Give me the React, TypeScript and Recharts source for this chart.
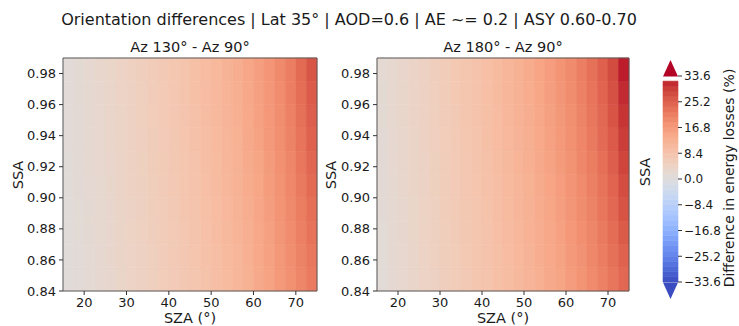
import React from 'react'
import { ScatterChart, ComposedChart, XAxis, YAxis, ReferenceArea } from 'recharts'

// grid cell edges (SZA in degrees, SSA)
const szaEdges = [15, 17.5, 20, 22.5, 25, 27.5, 30, 32.5, 35, 37.5, 40, 42.5, 45, 47.5, 50, 52.5, 55, 57.5, 60, 62.5, 65, 67.5, 70, 72.5, 75]
const ssaEdges = [0.84, 0.855, 0.87, 0.885, 0.9, 0.915, 0.93, 0.945, 0.96, 0.975, 0.99]

const szaTicks = [20, 30, 40, 50, 60, 70]
const ssaTicks = [0.84, 0.86, 0.88, 0.9, 0.92, 0.94, 0.96, 0.98]
const cbarTicks = [-33.6, -25.2, -16.8, -8.4, 0, 8.4, 16.8, 25.2, 33.6]

// difference in energy losses (%), rows from SSA 0.84 (bottom) to 0.99 (top)
const az130Rows = [
  [0.8, 1.3, 1.8, 2.3, 2.8, 3.5, 4.1, 4.7, 5.4, 6.1, 6.7, 7.4, 8.1, 8.9, 9.7, 10.6, 11.6, 12.7, 14.0, 15.4, 16.9, 18.4, 20.0, 21.6],
  [0.8, 1.3, 1.8, 2.3, 2.9, 3.6, 4.2, 4.8, 5.5, 6.2, 6.8, 7.5, 8.2, 9.0, 9.9, 10.8, 11.8, 12.9, 14.2, 15.7, 17.2, 18.7, 20.4, 22.1],
  [0.9, 1.4, 1.9, 2.4, 3.0, 3.7, 4.3, 4.9, 5.6, 6.3, 6.9, 7.6, 8.4, 9.2, 10.0, 11.0, 12.0, 13.1, 14.5, 15.9, 17.5, 19.0, 20.9, 22.7],
  [0.9, 1.4, 1.9, 2.5, 3.0, 3.7, 4.4, 5.0, 5.7, 6.4, 7.0, 7.8, 8.5, 9.4, 10.2, 11.1, 12.2, 13.3, 14.7, 16.1, 17.8, 19.4, 21.3, 23.2],
  [1.0, 1.5, 2.0, 2.5, 3.1, 3.8, 4.5, 5.1, 5.8, 6.5, 7.1, 7.9, 8.7, 9.5, 10.4, 11.3, 12.4, 13.6, 14.9, 16.4, 18.0, 19.7, 21.7, 23.8],
  [1.0, 1.5, 2.1, 2.6, 3.2, 3.9, 4.5, 5.2, 5.9, 6.6, 7.3, 8.0, 8.8, 9.7, 10.5, 11.5, 12.6, 13.8, 15.1, 16.6, 18.3, 20.0, 22.1, 24.3],
  [1.1, 1.6, 2.1, 2.7, 3.3, 4.0, 4.6, 5.3, 6.0, 6.7, 7.4, 8.2, 9.0, 9.8, 10.7, 11.7, 12.7, 14.0, 15.3, 16.9, 18.6, 20.4, 22.5, 24.9],
  [1.1, 1.6, 2.2, 2.7, 3.3, 4.0, 4.7, 5.4, 6.1, 6.8, 7.5, 8.3, 9.1, 10.0, 10.9, 11.9, 12.9, 14.2, 15.6, 17.1, 18.8, 20.7, 23.0, 25.4],
  [1.2, 1.7, 2.2, 2.8, 3.4, 4.1, 4.8, 5.5, 6.2, 6.9, 7.6, 8.4, 9.3, 10.2, 11.1, 12.0, 13.1, 14.4, 15.8, 17.3, 19.1, 21.0, 23.4, 26.0],
  [1.2, 1.7, 2.3, 2.9, 3.5, 4.2, 4.9, 5.6, 6.3, 7.0, 7.7, 8.5, 9.4, 10.3, 11.2, 12.2, 13.3, 14.6, 16.0, 17.6, 19.4, 21.3, 23.8, 26.5],
]

const az180Rows = [
  [1.3, 2.0, 2.6, 3.3, 4.1, 4.8, 5.6, 6.3, 7.0, 7.8, 8.5, 9.3, 10.1, 11.0, 11.9, 12.9, 14.0, 15.1, 16.5, 17.8, 19.2, 20.7, 22.3, 24.1],
  [1.4, 2.1, 2.7, 3.4, 4.2, 4.9, 5.7, 6.4, 7.2, 7.9, 8.6, 9.4, 10.3, 11.2, 12.1, 13.2, 14.3, 15.4, 16.8, 18.1, 19.6, 21.2, 22.9, 25.0],
  [1.4, 2.1, 2.8, 3.5, 4.3, 5.0, 5.8, 6.5, 7.3, 8.0, 8.7, 9.6, 10.4, 11.4, 12.3, 13.4, 14.5, 15.7, 17.1, 18.5, 20.0, 21.7, 23.5, 25.9],
  [1.5, 2.2, 2.8, 3.5, 4.3, 5.1, 5.9, 6.6, 7.4, 8.1, 8.9, 9.7, 10.6, 11.6, 12.5, 13.6, 14.8, 16.0, 17.4, 18.9, 20.4, 22.2, 24.1, 26.8],
  [1.5, 2.2, 2.9, 3.6, 4.4, 5.2, 6.0, 6.7, 7.5, 8.2, 9.0, 9.9, 10.8, 11.8, 12.7, 13.8, 15.0, 16.3, 17.7, 19.2, 20.8, 22.7, 24.7, 27.7],
  [1.6, 2.3, 2.9, 3.6, 4.4, 5.2, 6.0, 6.8, 7.6, 8.4, 9.1, 10.0, 10.9, 12.0, 12.9, 14.1, 15.3, 16.6, 18.0, 19.6, 21.3, 23.2, 25.4, 28.6],
  [1.6, 2.3, 3.0, 3.7, 4.5, 5.3, 6.1, 6.9, 7.7, 8.5, 9.3, 10.2, 11.1, 12.1, 13.1, 14.3, 15.5, 16.9, 18.3, 19.9, 21.7, 23.7, 26.0, 29.5],
  [1.7, 2.4, 3.1, 3.8, 4.6, 5.4, 6.2, 7.0, 7.8, 8.6, 9.4, 10.3, 11.3, 12.3, 13.3, 14.5, 15.8, 17.2, 18.6, 20.3, 22.1, 24.2, 26.6, 30.4],
  [1.7, 2.4, 3.1, 3.8, 4.6, 5.5, 6.3, 7.1, 7.9, 8.7, 9.5, 10.5, 11.5, 12.5, 13.5, 14.8, 16.0, 17.5, 18.9, 20.7, 22.5, 24.7, 27.2, 31.3],
  [1.8, 2.5, 3.2, 3.9, 4.7, 5.6, 6.4, 7.2, 8.0, 8.8, 9.6, 10.6, 11.6, 12.7, 13.7, 15.0, 16.3, 17.8, 19.2, 21.0, 22.9, 25.2, 27.8, 32.2],
]

const VMIN = -33.6
const VMAX = 33.6

// matplotlib coolwarm, 33 samples
const CW = [
  [59, 76, 192], [68, 90, 204], [77, 104, 215], [87, 117, 225], [98, 130, 234], [108, 142, 241],
  [119, 154, 247], [130, 165, 251], [141, 176, 254], [152, 185, 255], [163, 194, 255], [174, 201, 253],
  [184, 208, 249], [194, 213, 244], [204, 217, 238], [213, 219, 230], [221, 221, 221], [229, 216, 209],
  [236, 211, 197], [241, 204, 185], [245, 196, 173], [247, 187, 160], [247, 177, 148], [247, 167, 135],
  [244, 154, 123], [241, 141, 111], [236, 127, 99], [229, 112, 88], [222, 96, 77], [213, 80, 66],
  [203, 62, 56], [192, 40, 47], [180, 4, 38],
]

function coolwarm(v: number) {
  let t = (v - VMIN) / (VMAX - VMIN)
  t = Math.max(0, Math.min(1, t))
  const p = t * (CW.length - 1)
  const i = Math.min(Math.floor(p), CW.length - 2)
  const f = p - i
  const c = CW[i].map((a, k) => Math.round(a + (CW[i + 1][k] - a) * f))
  return `rgb(${c[0]},${c[1]},${c[2]})`
}

const tickStyle = { fontSize: 13, fill: '#1a1a1a' }

function Panel({ rows, left, plotWidth }: { rows: number[][]; left: number; plotWidth: number }) {
  const width = 330
  const cells: React.ReactNode[] = []
  rows.forEach((row, r) => {
    row.forEach((v, c) => {
      const col = coolwarm(v)
      cells.push(
        <ReferenceArea
          key={`${r}-${c}`}
          x1={szaEdges[c]}
          x2={szaEdges[c + 1]}
          y1={ssaEdges[r]}
          y2={ssaEdges[r + 1]}
          fill={col}
          fillOpacity={1}
          stroke={col}
          strokeWidth={0.6}
        />
      )
    })
  })
  return (
    <div style={{ position: 'absolute', left, top: 0 }}>
      <ScatterChart width={width} height={326} margin={{ top: 58, right: width - 63 - plotWidth, bottom: 5, left: 23 }}>
        <XAxis
          type="number"
          dataKey="x"
          domain={[15, 75]}
          ticks={szaTicks}
          allowDataOverflow
          height={30}
          tick={tickStyle}
          tickSize={4}
          tickMargin={3}
          stroke="#333"
          axisLine={false}
        />
        <YAxis
          type="number"
          dataKey="y"
          domain={[0.84, 0.99]}
          ticks={ssaTicks}
          allowDataOverflow
          width={40}
          tick={tickStyle}
          tickSize={4}
          tickMargin={3}
          stroke="#333"
          axisLine={false}
          tickFormatter={(v: number) => v.toFixed(2)}
        />
        {cells}
        <ReferenceArea x1={15} x2={75} y1={0.84} y2={0.99} fill="none" stroke="#5a5a5a" strokeWidth={1} />
      </ScatterChart>
    </div>
  )
}

function Colorbar() {
  const n = 40
  const step = (VMAX - VMIN) / n
  const bands = Array.from({ length: n }, (_, i) => VMIN + i * step)
  const dummy = [{ x: 0 }, { x: 1 }]
  return (
    <div style={{ position: 'absolute', left: 640, top: 0 }}>
      <ComposedChart width={99} height={326} data={dummy} margin={{ top: 76, right: 21, bottom: 44, left: 23 }}>
        <XAxis type="number" dataKey="x" domain={[0, 1]} hide />
        <YAxis
          orientation="right"
          type="number"
          domain={[VMIN, VMAX]}
          ticks={cbarTicks}
          allowDataOverflow
          width={40}
          tick={{ fontSize: 12, fill: '#1a1a1a' }}
          tickSize={4}
          tickMargin={2}
          stroke="#333"
          axisLine={false}
          tickFormatter={(v: number) => (v < 0 ? '\u2212' : '') + Math.abs(v).toFixed(1)}
        />
        {bands.map((b, i) => {
          const col = coolwarm(b + step / 2)
          return (
            <ReferenceArea key={i} x1={0} x2={1} y1={b} y2={b + step} fill={col} fillOpacity={1} stroke={col} strokeWidth={0.6} />
          )
        })}
      </ComposedChart>
      <svg style={{ position: 'absolute', left: 23, top: 60 }} width={15} height={17}>
        <polygon points="0,16.5 7.5,0 15,16.5" fill={coolwarm(VMAX)} />
      </svg>
      <svg style={{ position: 'absolute', left: 23, top: 281.5 }} width={15} height={17}>
        <polygon points="0,0.5 15,0.5 7.5,17" fill={coolwarm(VMIN)} />
      </svg>
    </div>
  )
}

function Txt({ x, y, size, rotate, children }: { x: number; y: number; size: number; rotate?: boolean; children: React.ReactNode }) {
  return (
    <div
      style={{
        position: 'absolute',
        left: x,
        top: y,
        transform: `translate(-50%, -50%)${rotate ? ' rotate(-90deg)' : ''}`,
        whiteSpace: 'nowrap',
        fontSize: size,
        lineHeight: 1,
        color: '#1a1a1a',
      }}
    >
      {children}
    </div>
  )
}

export default function App() {
  return (
    <div
      style={{
        position: 'absolute',
        left: 0,
        top: 0,
        width: 739,
        height: 326,
        background: '#fff',
        overflow: 'hidden',
        fontFamily: '"DejaVu Sans", sans-serif',
      }}
    >
      <Txt x={349} y={20} size={16}>Orientation differences | Lat 35° | AOD=0.6 | AE ~= 0.2 | ASY 0.60-0.70</Txt>
      <Txt x={190} y={47} size={14.5}>Az 130° - Az 90°</Txt>
      <Txt x={503} y={47} size={14.5}>Az 180° - Az 90°</Txt>
      <Panel rows={az130Rows} left={0} plotWidth={254} />
      <Panel rows={az180Rows} left={314} plotWidth={252} />
      <Colorbar />
      <Txt x={18} y={175} size={14.5} rotate>SSA</Txt>
      <Txt x={331} y={175} size={14.5} rotate>SSA</Txt>
      <Txt x={645} y={172} size={14.5} rotate>SSA</Txt>
      <Txt x={190} y={318} size={14.5}>SZA (°)</Txt>
      <Txt x={503} y={318} size={14.5}>SZA (°)</Txt>
      <Txt x={729} y={178} size={14} rotate>Difference in energy losses (%)</Txt>
    </div>
  )
}
